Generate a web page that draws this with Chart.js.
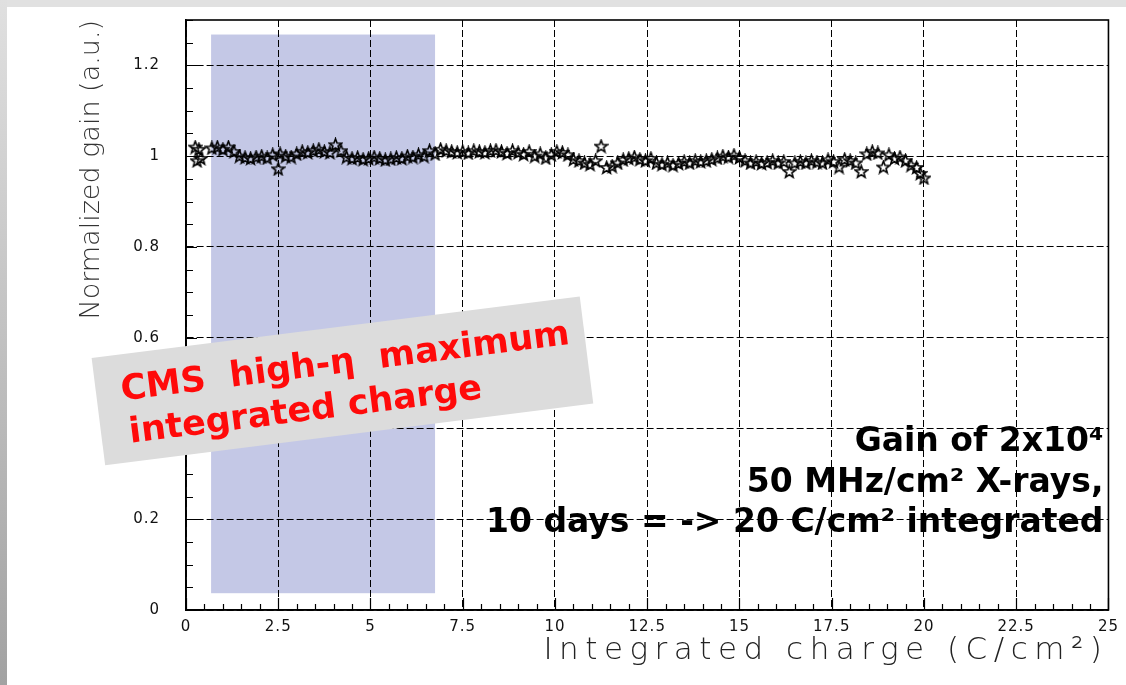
<!DOCTYPE html>
<html><head><meta charset="utf-8">
<script src="https://cdn.jsdelivr.net/npm/chart.js@4/dist/chart.umd.min.js"></script>
<style>html,body{margin:0;padding:0;background:#fff;overflow:hidden}</style>
</head><body><canvas id="c" width="1126" height="685"></canvas>
<script>
// ---------- data ----------
const charge = [
  0.25, 0.3, 0.35, 0.4, 0.7, 0.85, 1.0, 1.15, 1.3, 1.45,
  1.6, 1.75, 1.9, 2.05, 2.2, 2.35, 2.5, 2.55, 2.7, 2.85,
  3.0, 3.15, 3.3, 3.45, 3.6, 3.75, 3.9, 4.05, 4.2, 4.35,
  4.5, 4.65, 4.8, 4.95, 5.1, 5.25, 5.4, 5.55, 5.7, 5.85,
  6.0, 6.15, 6.3, 6.45, 6.6, 6.75, 6.9, 7.05, 7.2, 7.35,
  7.5, 7.65, 7.8, 7.95, 8.1, 8.25, 8.4, 8.55, 8.7, 8.85,
  9.0, 9.15, 9.3, 9.45, 9.6, 9.75, 9.9, 10.05, 10.2, 10.35,
  10.5, 10.65, 10.8, 10.95, 11.1, 11.25, 11.4, 11.55, 11.7, 11.85,
  12.0, 12.15, 12.3, 12.45, 12.6, 12.75, 12.9, 13.05, 13.2, 13.35,
  13.5, 13.65, 13.8, 13.95, 14.1, 14.25, 14.4, 14.55, 14.7, 14.85,
  15.0, 15.15, 15.3, 15.45, 15.6, 15.75, 15.9, 16.05, 16.2, 16.35,
  16.5, 16.65, 16.8, 16.95, 17.1, 17.25, 17.4, 17.55, 17.7, 17.85,
  18.0, 18.15, 18.3, 18.45, 18.6, 18.75, 18.9, 19.05, 19.2, 19.35,
  19.5, 19.65, 19.8, 19.9, 20.0
];
const gain = [
  1.02, 0.99, 1.015, 0.995, 1.018, 1.02, 1.015, 1.02, 1.01, 1.0,
  0.997, 0.995, 0.998, 1.0, 0.996, 1.003, 0.972, 1.005, 1.0, 0.998,
  1.005, 1.01, 1.008, 1.012, 1.015, 1.01, 1.008, 1.025, 1.012, 0.998,
  0.995, 0.997, 0.993, 0.995, 0.998, 0.995, 0.992, 0.994, 0.997, 0.995,
  1.0, 0.998, 1.003, 1.0, 1.012, 1.005, 1.015, 1.012, 1.01, 1.008,
  1.01, 1.007, 1.012, 1.01, 1.008, 1.012, 1.013, 1.01, 1.006, 1.012,
  1.008, 1.004, 1.01, 1.0, 1.005, 0.996, 1.003, 1.01, 1.008, 1.003,
  0.993, 0.99, 0.985, 0.982, 0.99, 1.022, 0.975, 0.978, 0.985, 0.992,
  0.995, 0.998, 0.993, 0.99, 0.995, 0.985, 0.982, 0.985, 0.98, 0.984,
  0.988, 0.985, 0.99, 0.988, 0.99, 0.993, 0.996, 1.0, 0.998, 1.002,
  0.997, 0.99, 0.985, 0.988, 0.984, 0.986, 0.99, 0.985, 0.988, 0.966,
  0.985, 0.988, 0.985, 0.99, 0.987, 0.985, 0.992, 0.988, 0.976, 0.993,
  0.99, 0.985, 0.966, 1.005, 1.01, 1.007, 0.976, 1.003, 0.995, 0.998,
  0.99, 0.98, 0.975, 0.962, 0.952
];
const xTickLabels = ['0','2.5','5','7.5','10','12.5','15','17.5','20','22.5','25'];
const yTickLabels = ['0','0.2','0.4','0.6','0.8','1','1.2'];
const bandCharge = [0.68, 6.75];
const bandGain = [0.037, 1.268];
const xTitle = 'Integrated charge (C/cm²)';
const yTitle = 'Normalized gain (a.u.)';
const noteLines = ['CMS  high-\u03B7  maximum', 'integrated charge'];
const infoLines = ['Gain of 2x10\u2074', '50 MHz/cm\u00B2 X-rays,', '10 days = -> 20 C/cm\u00B2 integrated'];

// ---------- helpers ----------
function makeStar() {
  const c = document.createElement('canvas');
  c.width = 15; c.height = 15;
  const g = c.getContext('2d');
  g.beginPath();
  for (let i = 0; i < 10; i++) {
    const r = i % 2 ? 2.7 : 6.4;
    const a = -Math.PI / 2 + i * Math.PI / 5;
    g.lineTo(7.5 + r * Math.cos(a), 8 + r * Math.sin(a));
  }
  g.closePath();
  g.lineWidth = 1.6;
  g.strokeStyle = '#000';
  g.stroke();
  return c;
}
const starImg = makeStar();

// letter spacing for axis titles and tick labels
const origDrawTitle = Chart.Scale.prototype.drawTitle;
Chart.Scale.prototype.drawTitle = function () {
  const c = this.ctx;
  const prev = c.letterSpacing;
  c.letterSpacing = this.id === 'x' ? '6.5px' : '0px';
  origDrawTitle.call(this);
  c.letterSpacing = prev || '0px';
};
const origDrawLabels = Chart.Scale.prototype.drawLabels;
Chart.Scale.prototype.drawLabels = function (area) {
  const c = this.ctx;
  const prev = c.letterSpacing;
  c.letterSpacing = '1px';
  origDrawLabels.call(this, area);
  c.letterSpacing = prev || '0px';
};

function fitSize(ctx, text, target, weight, family) {
  ctx.font = weight + ' 100px ' + family;
  return 100 * target / ctx.measureText(text).width;
}

const bgPlugin = {
  id: 'bg',
  beforeDraw(chart) {
    const ctx = chart.ctx, W = chart.width, H = chart.height;
    ctx.save();
    ctx.fillStyle = '#fff';
    ctx.fillRect(0, 0, W, H);
    ctx.fillStyle = '#e1e1e1';
    ctx.fillRect(0, 0, W, 7);
    const g = ctx.createLinearGradient(0, 0, 0, H);
    g.addColorStop(0, '#e0e0e0');
    g.addColorStop(1, '#a2a2a2');
    ctx.fillStyle = g;
    ctx.fillRect(0, 0, 7, H);
    // shaded band
    const xs = chart.scales.x, ys = chart.scales.y;
    const x0 = xs.getPixelForValue(bandCharge[0]), x1 = xs.getPixelForValue(bandCharge[1]);
    const y0 = ys.getPixelForValue(bandGain[1]), y1 = ys.getPixelForValue(bandGain[0]);
    ctx.fillStyle = 'rgb(196,200,230)';
    ctx.fillRect(x0, y0, x1 - x0, y1 - y0);
    ctx.restore();
  }
};

const framePlugin = {
  id: 'frame',
  afterDatasetsDraw(chart) {
    const ctx = chart.ctx, a = chart.chartArea;
    const xs = chart.scales.x, ys = chart.scales.y;
    ctx.save();
    ctx.strokeStyle = '#000';
    ctx.lineWidth = 1.2;
    ctx.beginPath();
    for (let k = 0; k <= 50; k++) {
      const v = k * 0.5;
      const px = Math.round(xs.getPixelForValue(v)) + 0.5;
      const len = k % 5 === 0 ? 12 : 6;
      ctx.moveTo(px, a.bottom);
      ctx.lineTo(px, a.bottom - len);
    }
    for (let k = 0; k <= 26; k++) {
      const v = k * 0.05;
      const py = Math.round(ys.getPixelForValue(v)) + 0.5;
      const len = k % 4 === 0 ? 11 : 7;
      ctx.moveTo(a.left, py);
      ctx.lineTo(a.left + len, py);
    }
    ctx.stroke();
    ctx.lineWidth = 1.6;
    ctx.strokeRect(a.left, a.top, a.right - a.left, a.bottom - a.top);
    ctx.restore();
  },
  afterDraw(chart) {
    const ctx = chart.ctx, a = chart.chartArea;
    const xs = chart.scales.x, ys = chart.scales.y;
    ctx.save();
    ctx.letterSpacing = '0px';
    // rotated grey note
    const cx = xs.getPixelForValue(4.24), cy = ys.getPixelForValue(0.505);
    ctx.translate(cx, cy);
    ctx.rotate(-7.2 * Math.PI / 180);
    ctx.fillStyle = '#dcdcdc';
    ctx.fillRect(-246, -54, 492, 108);
    const fam = "'DejaVu Sans', sans-serif";
    const s1 = fitSize(ctx, noteLines[0], 452, 'bold', fam);
    ctx.font = 'bold ' + s1.toFixed(1) + 'px ' + fam;
    ctx.fillStyle = '#ff0a0a';
    ctx.textBaseline = 'alphabetic';
    ctx.textAlign = 'left';
    ctx.fillText(noteLines[0], -221, -8);
    ctx.fillText(noteLines[1], -218, 35);
    ctx.restore();

    // info text (right aligned)
    ctx.save();
    ctx.letterSpacing = '0px';
    const s2 = fitSize(ctx, infoLines[2], 618, 'bold', fam);
    ctx.font = 'bold ' + s2.toFixed(1) + 'px ' + fam;
    ctx.fillStyle = '#000';
    ctx.textAlign = 'right';
    ctx.textBaseline = 'alphabetic';
    const rx = a.right - 5;
    ctx.fillText(infoLines[0], rx, 451);
    ctx.fillText(infoLines[1], rx, 492);
    ctx.fillText(infoLines[2], rx, 532);
    ctx.restore();
  }
};

new Chart(document.getElementById('c'), {
  type: 'scatter',
  data: {
    datasets: [{
      data: charge.map((x, i) => ({ x: x, y: gain[i] })),
      pointStyle: starImg,
      pointRadius: 6,
      showLine: false
    }]
  },
  options: {
    responsive: false,
    animation: false,
    devicePixelRatio: 1,
    layout: { padding: { left: 0, right: 17, top: 20, bottom: 0 } },
    plugins: { legend: { display: false }, tooltip: { enabled: false } },
    scales: {
      x: {
        type: 'linear', min: 0, max: 25,
        afterFit(s) { s.height = 75; },
        ticks: {
          stepSize: 2.5, autoSkip: false, maxRotation: 0, padding: 8,
          color: '#111', font: { family: "'DejaVu Sans', sans-serif", size: 15 },
          callback: (v, i) => xTickLabels[i]
        },
        grid: { color: '#000', lineWidth: 1, drawTicks: false },
        border: { display: true, color: '#000', width: 1.6, dash: [7, 3] },
        title: {
          display: true, text: xTitle, align: 'end', color: '#222',
          font: { family: "'DejaVu Sans', sans-serif", size: 31, weight: '200' },
          padding: { top: 0, bottom: 15 }
        }
      },
      y: {
        type: 'linear', min: 0, max: 1.3,
        afterFit(s) { s.width = 186; s.paddingTop = 0; s.paddingBottom = 0; },
        ticks: {
          stepSize: 0.2, includeBounds: false, padding: 26,
          color: '#111', font: { family: "'DejaVu Sans', sans-serif", size: 15 },
          callback: (v, i) => yTickLabels[i]
        },
        grid: { color: '#000', lineWidth: 1, drawTicks: false },
        border: { display: true, color: '#000', width: 1.6, dash: [7, 3] },
        title: {
          display: true, text: yTitle, align: 'end', color: '#333',
          font: { family: "'DejaVu Sans', sans-serif", size: 27, weight: '200' },
          padding: { top: 76, bottom: 0 }
        }
      }
    }
  },
  plugins: [bgPlugin, framePlugin]
});
</script>
</body></html>
